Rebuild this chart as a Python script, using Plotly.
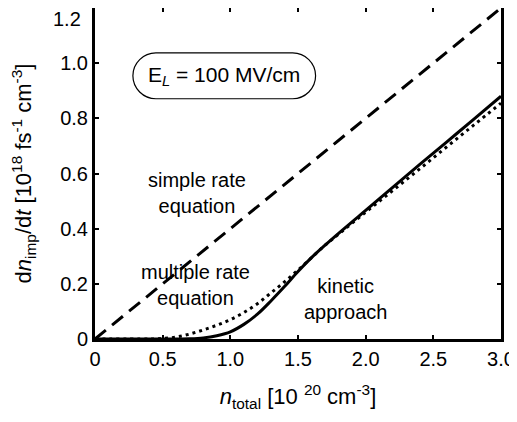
import plotly.graph_objects as go

# Data
n_simple = [0.0, 3.0]
r_simple = [0.0, 1.2]

n_kin = [0.0, 0.5, 0.7, 0.8, 0.9, 1.0, 1.1, 1.2, 1.3, 1.4, 1.5, 1.6, 1.7, 1.8, 1.9, 2.0, 2.2, 2.4, 2.6, 2.8, 3.0]
r_kin = [0.0, 0.0, 0.001, 0.004, 0.012, 0.026, 0.053, 0.09, 0.138, 0.19, 0.245, 0.295, 0.34, 0.383, 0.425, 0.466, 0.55, 0.633, 0.715, 0.797, 0.88]

n_mult = [0.0, 0.4, 0.5, 0.6, 0.7, 0.8, 0.9, 1.0, 1.1, 1.2, 1.3, 1.4, 1.5, 1.6, 1.7, 1.8, 2.0, 2.2, 2.4, 2.6, 2.8, 3.0]
r_mult = [0.0, 0.0, 0.002, 0.007, 0.018, 0.033, 0.05, 0.07, 0.096, 0.128, 0.167, 0.207, 0.25, 0.295, 0.34, 0.38, 0.46, 0.538, 0.617, 0.697, 0.776, 0.855]

x_ticks = [0, 0.5, 1.0, 1.5, 2.0, 2.5, 3.0]
x_labels = ["0", "0.5", "1.0", "1.5", "2.0", "2.5", "3.0"]
y_ticks = [0, 0.2, 0.4, 0.6, 0.8, 1.0, 1.2]
y_labels = ["0", "0.2", "0.4", "0.6", "0.8", "1.0", "1.2"]

FONT = "Liberation Sans, Arial, sans-serif"

fig = go.Figure()
fig.add_trace(go.Scatter(x=n_simple, y=r_simple, mode="lines",
                         line=dict(color="black", width=3, dash="14px,8px")))
fig.add_trace(go.Scatter(x=n_mult, y=r_mult, mode="lines", line_shape="spline",
                         line=dict(color="black", width=3, dash="3px,4px")))
fig.add_trace(go.Scatter(x=n_kin, y=r_kin, mode="lines", line_shape="spline",
                         line=dict(color="black", width=3)))

# rounded box around E_L label
x0, x1, y0, y1 = 0.28, 1.63, 0.871, 1.037
rx = 0.17
ym = (y0 + y1) / 2
path = (f"M {x0+rx},{y1} L {x1-rx},{y1} "
        f"C {x1-rx+rx*0.55},{y1} {x1},{ym+(y1-ym)*0.55} {x1},{ym} "
        f"C {x1},{ym-(y1-ym)*0.55} {x1-rx+rx*0.55},{y0} {x1-rx},{y0} "
        f"L {x0+rx},{y0} "
        f"C {x0+rx-rx*0.55},{y0} {x0},{ym-(y1-ym)*0.55} {x0},{ym} "
        f"C {x0},{ym+(y1-ym)*0.55} {x0+rx-rx*0.55},{y1} {x0+rx},{y1} Z")
fig.add_shape(type="path", path=path, xref="x", yref="y",
              line=dict(color="black", width=1.2))

ann_font = dict(family=FONT, size=20, color="black")
fig.add_annotation(x=0.955, y=0.952, text="E<sub><i>L</i></sub> = 100 MV/cm", showarrow=False,
                   font=dict(family=FONT, size=21, color="black"))
fig.add_annotation(x=0.755, y=0.53, text="simple rate<br>equation", showarrow=False, font=ann_font)
fig.add_annotation(x=0.74, y=0.195, text="multiple rate<br>equation", showarrow=False, font=ann_font)
fig.add_annotation(x=1.85, y=0.145, text="kinetic<br>approach", showarrow=False, font=ann_font)

# top y tick label (sits just below the top edge, as in the reference)
fig.add_annotation(x=0, xref="paper", y=y_ticks[-1], yref="y", text=y_labels[-1],
                   xanchor="right", yanchor="top", xshift=-12, yshift=2,
                   showarrow=False, font=dict(family=FONT, size=20, color="black"))
y_text = y_labels[:-1] + [""]

axis_common = dict(showline=True, linecolor="black", linewidth=3, mirror="ticks",
                   ticks="inside", ticklen=4, tickwidth=2, tickcolor="black",
                   showgrid=False, zeroline=False, automargin=False,
                   tickfont=dict(family=FONT, size=20, color="black"))

# the page body adds an 8px offset, so the figure is 8px smaller
fig.update_layout(
    width=509, height=414,
    margin=dict(l=87, r=16, t=0, b=83),
    paper_bgcolor="white", plot_bgcolor="white",
    showlegend=False,
    xaxis=dict(range=[0, 3.0], tickvals=x_ticks, ticktext=x_labels,
               title=dict(text="<i>n</i><sub>total</sub> [10 <sup>20</sup> cm<sup>-3</sup>]",
                          font=dict(family=FONT, size=22, color="black"), standoff=20),
               **axis_common),
    yaxis=dict(range=[0, 1.2], tickvals=y_ticks, ticktext=y_text,
               title=dict(text="d<i>n</i><sub>imp</sub>/d<i>t</i> [10<sup>18</sup> fs<sup>-1</sup> cm<sup>-3</sup>]",
                          font=dict(family=FONT, size=22, color="black"), standoff=26),
               **axis_common),
)

fig.write_html("out.html")
